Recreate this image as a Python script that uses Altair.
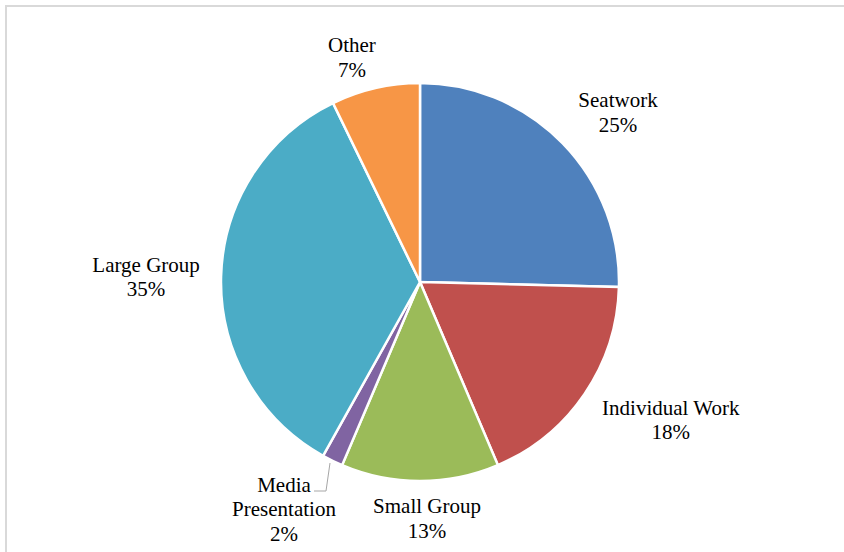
import altair as alt
import pandas as pd

categories = ["Seatwork", "Individual Work", "Small Group", "Media Presentation", "Large Group", "Other"]
label_names = ["Seatwork", "Individual Work", "Small Group", "Media\nPresentation", "Large Group", "Other"]
values = [25.4, 18.2, 12.8, 1.7, 34.7, 7.2]
colors = ["#4f81bd", "#c0504d", "#9bbb59", "#8064a2", "#4bacc6", "#f79646"]

df = pd.DataFrame({
    "cat": categories,
    "name": label_names,
    "value": values,
    "order": list(range(len(categories))),
})

CX, CY = 420, 282
FONT = "Liberation Serif"

base = alt.Chart(df)

theta_scale = alt.Scale(domain=[0, 100], range=[0, 6.283185307179586])

pie = base.transform_window(
    cum="sum(value)", sort=[alt.SortField("order")]
).transform_calculate(
    start="datum.cum - datum.value"
).mark_arc(outerRadius=199, stroke="white", strokeWidth=2.5).encode(
    theta=alt.Theta("start:Q", scale=theta_scale),
    theta2="cum:Q",
    color=alt.Color("cat:N", scale=alt.Scale(domain=categories, range=colors), legend=None),
    x=alt.value(CX),
    y=alt.value(CY),
)

offsets = {
    "Seatwork": (19, -6),
    "Individual Work": (44, -14),
    "Small Group": (7, -25),
    "Media Presentation": (-26, -21),
    "Large Group": (-24, -9),
    "Other": (-12, 8),
}

text_layers = []
for cat in categories:
    dx, dy = offsets[cat]
    t = base.transform_window(
        cum="sum(value)", sort=[alt.SortField("order")]
    ).transform_calculate(
        mid="datum.cum - datum.value / 2",
        label="datum.name + '\\n' + round(datum.value) + '%'",
    ).transform_filter(
        alt.datum.cat == cat
    ).mark_text(
        radius=250, font=FONT, fontSize=21, color="#000000", lineBreak="\n",
        align="center", baseline="middle", lineHeight=24.5, dx=dx, dy=dy,
    ).encode(
        theta=alt.Theta("mid:Q", scale=theta_scale),
        text="label:N",
        x=alt.value(CX),
        y=alt.value(CY),
    )
    text_layers.append(t)

border = alt.Chart(pd.DataFrame({"a": [0]})).mark_rect(
    fill=None, stroke="#d9d9d9", strokeWidth=2
).encode(
    x=alt.value(6), x2=alt.value(1000), y=alt.value(6), y2=alt.value(1000)
)

leader1 = alt.Chart(pd.DataFrame({"a": [0]})).mark_rule(color="#a6a6a6", strokeWidth=1).encode(
    x=alt.value(330), y=alt.value(463), x2=alt.value(326), y2=alt.value(491)
)
leader2 = alt.Chart(pd.DataFrame({"a": [0]})).mark_rule(color="#a6a6a6", strokeWidth=1).encode(
    x=alt.value(326), y=alt.value(491), x2=alt.value(314), y2=alt.value(491)
)

chart = alt.layer(border, pie, leader1, leader2, *text_layers).properties(
    width=844, height=552, padding=0, autosize=alt.AutoSizeParams(type="none"),
    background="white",
).configure_view(stroke=None)

chart.save("out.html", embed_options={"renderer": "svg", "actions": False})
